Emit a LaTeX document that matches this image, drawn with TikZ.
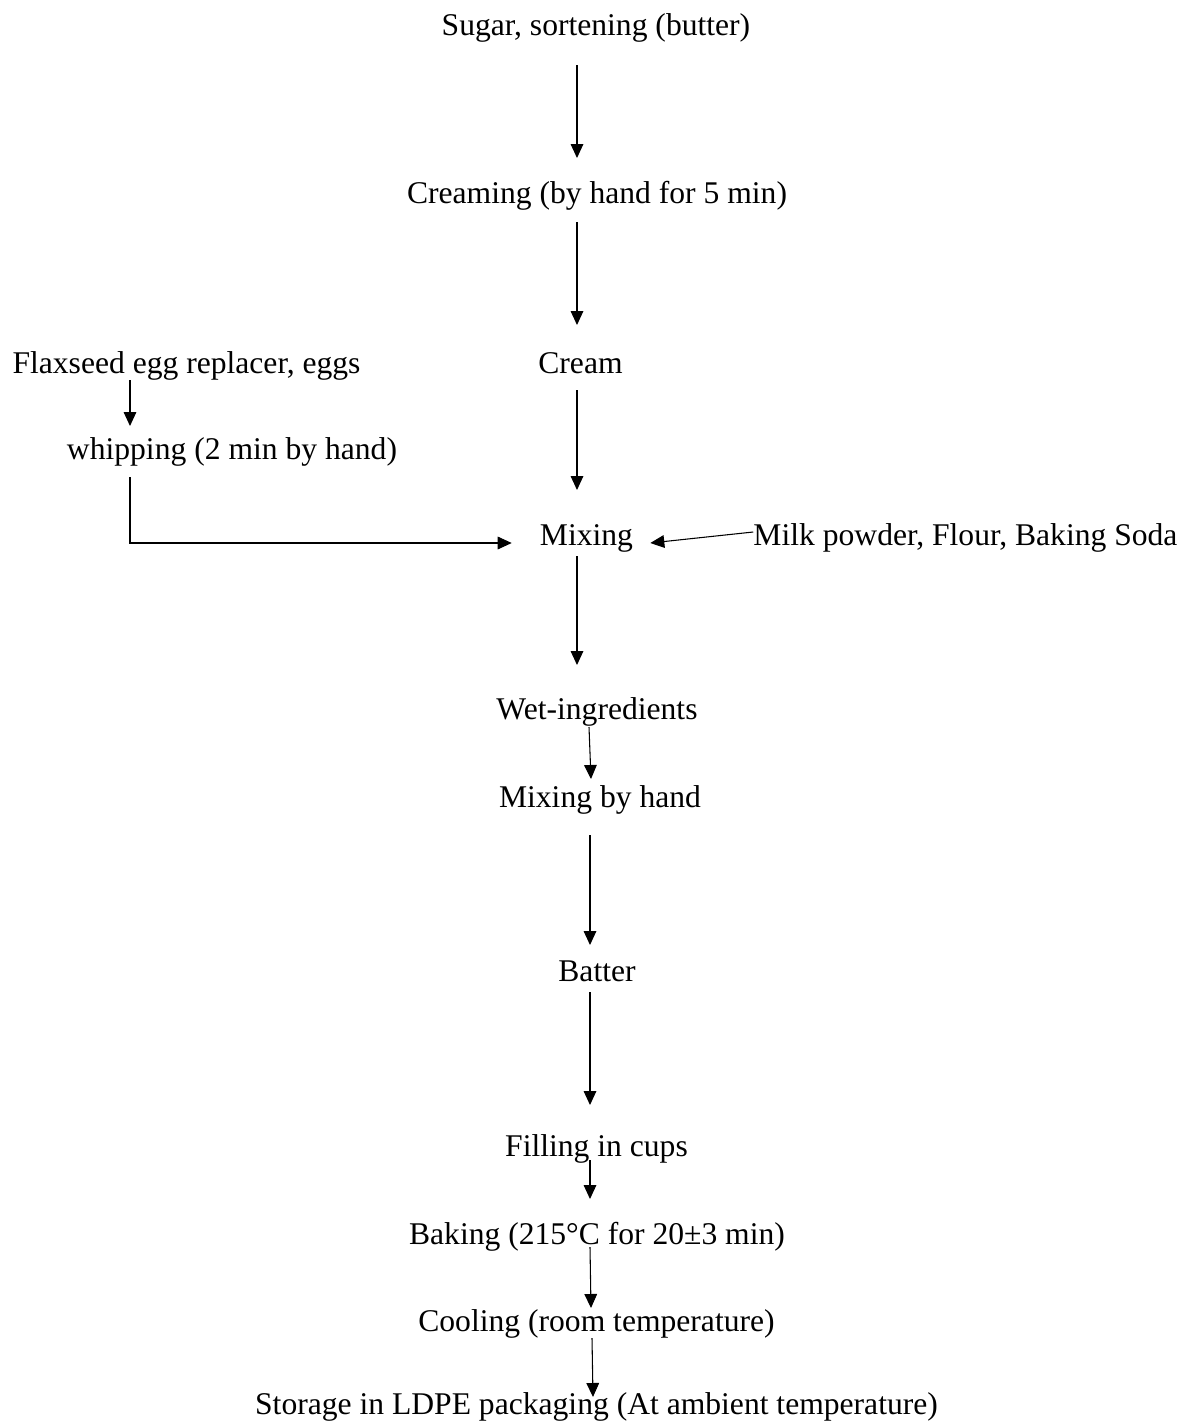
\documentclass[tikz,border=0pt]{standalone}
\usepackage{fontspec}
\setmainfont{Liberation Serif}
\usetikzlibrary{arrows.meta,calc}
\begin{document}
\begin{tikzpicture}[x=0.75pt,y=-0.75pt,
  txt/.style={inner sep=0pt,anchor=base,font=\fontsize{23.7}{28}\selectfont},
  arr/.style={line width=0.8pt,-{Triangle[length=10.5pt,width=9.5pt]}}]
\useasboundingbox[fill=white] (0,0) rectangle (1195,1425);
\node[txt] (sugar) at (596,35) {Sugar, sortening (butter)};
\node[txt] (creaming) at (597,203) {Creaming (by hand for 5 min)};
\node[txt] (cream) at (580.5,373) {Cream};
\node[txt] (flax) at (186.5,373) {Flaxseed egg replacer, eggs};
\node[txt] (whip) at (232,459) {whipping (2 min by hand)};
\node[txt] (mixing) at (586.5,545) {Mixing};
\node[txt] (milk) at (965.5,545) {Milk powder, Flour, Baking Soda};
\node[txt] (wet) at (597,719) {Wet-ingredients};
\node[txt] (mbh) at (600,807) {Mixing by hand};
\node[txt] (batter) at (597,981) {Batter};
\node[txt] (filling) at (596.5,1156) {Filling in cups};
\node[txt] (baking) at (597,1244) {Baking (215°C for 20±3 min)};
\node[txt] (cooling) at (596.5,1331) {Cooling (room temperature)};
\node[txt] (storage) at (596.5,1414) {Storage in LDPE packaging (At ambient temperature)};

\draw[arr] ($(sugar.base)+(-19,30)$) -- ($(creaming.base)+(-20,-45)$);
\draw[arr] ($(creaming.base)+(-20,19)$) -- ($(cream.base)+(-3.5,-48)$);
\draw[arr] ($(cream.base)+(-3.5,17)$) -- ($(mixing.base)+(-9.5,-55)$);
\draw[arr] ($(flax.base)+(-56.5,7)$) -- ($(whip.base)+(-102,-33)$);
\draw[arr] ($(whip.base)+(-102,18)$) |- ($(mixing.base west)+(-28,-2)$);
\draw[arr] ($(milk.base west)+(0,-13)$) -- ($(mixing.base east)+(17,-2)$);
\draw[arr] ($(mixing.base)+(-9.5,11)$) -- ($(wet.base)+(-20,-54)$);
\draw[arr] ($(wet.base)+(-8,8)$) -- ($(mbh.base)+(-9,-28)$);
\draw[arr] ($(mbh.base)+(-10,28)$) -- ($(batter.base)+(-7,-36)$);
\draw[arr] ($(batter.base)+(-7,11)$) -- ($(filling.base)+(-6.5,-51)$);
\draw[arr] ($(filling.base)+(-6.5,4)$) -- ($(baking.base)+(-7,-45)$);
\draw[arr] ($(baking.base)+(-7,3)$) -- ($(cooling.base)+(-5.5,-23)$);
\draw[arr] ($(cooling.base)+(-4.5,7)$) -- ($(storage.base)+(-3.5,-17)$);
\end{tikzpicture}
\end{document}
